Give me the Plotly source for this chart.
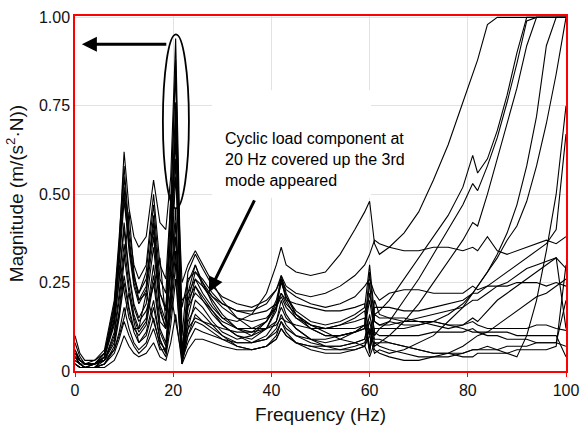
import plotly.graph_objects as go

# frequency grid (Hz) shared by every measured FRF curve
freq = [0, 1, 2, 4, 6, 8, 9, 10, 11, 12,
        13, 14.5, 16, 17.3, 18.5, 19.5, 20.5, 21.8, 23, 24.5,
        26, 28, 30, 33, 36, 39, 41, 42, 43, 45,
        48, 51, 54, 57, 59, 60, 61, 62, 64, 67,
        70, 73, 76, 79, 81, 82, 84, 86, 88, 90,
        92, 94, 96, 98, 100]

# magnitudes, m/(s^2 N)
c01 = [0.04, 0.03, 0.02, 0.02, 0.05, 0.16, 0.30, 0.48, 0.36, 0.26,
       0.22, 0.26, 0.40, 0.18, 0.12, 0.30, 0.72, 0.04, 0.18, 0.26,
       0.22, 0.18, 0.15, 0.14, 0.16, 0.22, 0.30, 0.35, 0.30, 0.28,
       0.27, 0.28, 0.33, 0.40, 0.45, 0.48, 0.36, 0.33, 0.35, 0.39,
       0.45, 0.54, 0.64, 0.76, 0.84, 0.88, 0.98, 1.0, 1.0, 1.0,
       1.0, 1.0, 1.0, 1.0, 1.0]
c02 = [0.08, 0.04, 0.02, 0.02, 0.04, 0.18, 0.36, 0.62, 0.46, 0.38,
       0.35, 0.38, 0.54, 0.42, 0.40, 0.55, 0.94, 0.10, 0.28, 0.33,
       0.29, 0.24, 0.21, 0.19, 0.18, 0.20, 0.23, 0.26, 0.23, 0.21,
       0.19, 0.18, 0.19, 0.21, 0.24, 0.26, 0.22, 0.20, 0.22, 0.23,
       0.23, 0.22, 0.22, 0.22, 0.24, 0.23, 0.24, 0.24, 0.24, 0.25,
       0.25, 0.25, 0.24, 0.25, 0.24]
c03 = [0.05, 0.03, 0.02, 0.03, 0.06, 0.20, 0.38, 0.58, 0.40, 0.30,
       0.26, 0.30, 0.50, 0.30, 0.26, 0.48, 0.88, 0.04, 0.22, 0.30,
       0.25, 0.19, 0.15, 0.12, 0.11, 0.14, 0.19, 0.25, 0.21, 0.17,
       0.14, 0.13, 0.14, 0.16, 0.18, 0.30, 0.16, 0.17, 0.20, 0.26,
       0.32, 0.38, 0.44, 0.52, 0.61, 0.56, 0.60, 0.68, 0.78, 0.90,
       1.0, 1.0, 1.0, 1.0, 1.0]
c04 = [0.04, 0.02, 0.01, 0.02, 0.05, 0.19, 0.35, 0.55, 0.38, 0.27,
       0.22, 0.28, 0.47, 0.26, 0.22, 0.45, 0.85, 0.03, 0.20, 0.28,
       0.26, 0.22, 0.19, 0.17, 0.17, 0.19, 0.23, 0.27, 0.24, 0.22,
       0.21, 0.22, 0.24, 0.27, 0.30, 0.33, 0.37, 0.36, 0.35, 0.34,
       0.34, 0.35, 0.35, 0.34, 0.35, 0.34, 0.38, 0.34, 0.33, 0.34,
       0.35, 0.36, 0.37, 0.36, 0.38]
c05 = [0.06, 0.03, 0.02, 0.02, 0.04, 0.15, 0.32, 0.52, 0.36, 0.25,
       0.20, 0.24, 0.44, 0.22, 0.18, 0.40, 0.76, 0.05, 0.25, 0.30,
       0.24, 0.20, 0.16, 0.12, 0.10, 0.12, 0.17, 0.26, 0.20, 0.15,
       0.12, 0.10, 0.10, 0.11, 0.12, 0.25, 0.10, 0.12, 0.14, 0.20,
       0.26, 0.33, 0.40, 0.47, 0.53, 0.51, 0.58, 0.66, 0.76, 0.87,
       0.99, 1.0, 1.0, 1.0, 1.0]
c06 = [0.03, 0.02, 0.01, 0.02, 0.05, 0.17, 0.33, 0.50, 0.34, 0.24,
       0.19, 0.23, 0.42, 0.22, 0.17, 0.38, 0.70, 0.02, 0.15, 0.24,
       0.20, 0.16, 0.13, 0.10, 0.09, 0.12, 0.18, 0.27, 0.22, 0.16,
       0.13, 0.12, 0.13, 0.15, 0.17, 0.06, 0.20, 0.16, 0.15, 0.14,
       0.14, 0.13, 0.12, 0.13, 0.15, 0.14, 0.17, 0.20, 0.22, 0.24,
       0.26, 0.28, 0.30, 0.32, 0.29]
c07 = [0.05, 0.03, 0.02, 0.02, 0.03, 0.09, 0.17, 0.30, 0.45, 0.28,
       0.20, 0.22, 0.38, 0.19, 0.14, 0.34, 0.65, 0.25, 0.30, 0.34,
       0.30, 0.25, 0.20, 0.15, 0.12, 0.12, 0.14, 0.18, 0.15, 0.12,
       0.09, 0.07, 0.06, 0.06, 0.07, 0.12, 0.07, 0.08, 0.10, 0.14,
       0.19, 0.25, 0.31, 0.37, 0.42, 0.41, 0.50, 0.60, 0.70, 0.80,
       0.92, 1.0, 1.0, 1.0, 1.0]
c08 = [0.02, 0.01, 0.01, 0.02, 0.04, 0.13, 0.26, 0.42, 0.28, 0.19,
       0.15, 0.19, 0.35, 0.17, 0.12, 0.30, 0.60, 0.03, 0.12, 0.20,
       0.18, 0.14, 0.11, 0.09, 0.10, 0.14, 0.20, 0.26, 0.21, 0.16,
       0.12, 0.10, 0.10, 0.11, 0.12, 0.20, 0.11, 0.10, 0.10, 0.10,
       0.10, 0.11, 0.11, 0.11, 0.12, 0.11, 0.11, 0.11, 0.11, 0.10,
       0.10, 0.10, 0.10, 0.10, 0.04]
c09 = [0.10, 0.05, 0.03, 0.03, 0.05, 0.14, 0.26, 0.40, 0.27, 0.18,
       0.14, 0.17, 0.24, 0.32, 0.14, 0.28, 0.55, 0.18, 0.26, 0.28,
       0.25, 0.21, 0.18, 0.15, 0.14, 0.15, 0.18, 0.22, 0.19, 0.16,
       0.13, 0.11, 0.09, 0.08, 0.07, 0.10, 0.05, 0.06, 0.05, 0.06,
       0.08, 0.10, 0.14, 0.18, 0.22, 0.24, 0.28, 0.33, 0.39, 0.47,
       0.58, 0.72, 0.92, 1.0, 1.0]
c10 = [0.03, 0.02, 0.01, 0.01, 0.03, 0.11, 0.22, 0.36, 0.24, 0.16,
       0.12, 0.15, 0.30, 0.14, 0.12, 0.50, 0.30, 0.02, 0.10, 0.16,
       0.14, 0.12, 0.10, 0.08, 0.08, 0.10, 0.14, 0.20, 0.16, 0.12,
       0.09, 0.08, 0.09, 0.11, 0.13, 0.28, 0.14, 0.13, 0.14, 0.13,
       0.13, 0.14, 0.13, 0.13, 0.14, 0.13, 0.12, 0.12, 0.12, 0.12,
       0.12, 0.13, 0.13, 0.12, 0.115]
c11 = [0.04, 0.02, 0.02, 0.02, 0.03, 0.10, 0.20, 0.33, 0.22, 0.15,
       0.11, 0.14, 0.27, 0.12, 0.08, 0.24, 0.46, 0.03, 0.18, 0.22,
       0.20, 0.17, 0.14, 0.12, 0.12, 0.14, 0.18, 0.21, 0.18, 0.15,
       0.13, 0.12, 0.12, 0.12, 0.13, 0.06, 0.12, 0.12, 0.12, 0.12,
       0.13, 0.14, 0.16, 0.19, 0.22, 0.24, 0.28, 0.32, 0.37, 0.41,
       0.48, 0.58, 0.70, 0.84, 1.0]
c12 = [0.02, 0.01, 0.01, 0.01, 0.04, 0.14, 0.30, 0.22, 0.15, 0.12,
       0.10, 0.13, 0.25, 0.11, 0.07, 0.22, 0.42, 0.04, 0.14, 0.18,
       0.16, 0.13, 0.10, 0.07, 0.06, 0.07, 0.10, 0.14, 0.11, 0.08,
       0.06, 0.05, 0.05, 0.06, 0.07, 0.04, 0.08, 0.07, 0.06, 0.05,
       0.04, 0.04, 0.04, 0.05, 0.06, 0.06, 0.06, 0.06, 0.07, 0.07,
       0.07, 0.08, 0.08, 0.08, 0.07]
c13 = [0.05, 0.03, 0.02, 0.02, 0.03, 0.08, 0.16, 0.27, 0.18, 0.12,
       0.12, 0.22, 0.14, 0.08, 0.06, 0.20, 0.38, 0.05, 0.20, 0.24,
       0.21, 0.17, 0.13, 0.10, 0.08, 0.09, 0.12, 0.16, 0.13, 0.10,
       0.08, 0.07, 0.07, 0.08, 0.09, 0.16, 0.09, 0.09, 0.08, 0.07,
       0.06, 0.05, 0.05, 0.05, 0.06, 0.06, 0.07, 0.06, 0.05, 0.04,
       0.10, 0.20, 0.34, 0.50, 0.75]
c14 = [0.03, 0.02, 0.01, 0.01, 0.02, 0.07, 0.15, 0.25, 0.17, 0.11,
       0.08, 0.11, 0.20, 0.09, 0.05, 0.18, 0.34, 0.03, 0.10, 0.14,
       0.13, 0.11, 0.09, 0.07, 0.06, 0.07, 0.09, 0.12, 0.10, 0.08,
       0.07, 0.06, 0.06, 0.07, 0.08, 0.12, 0.06, 0.05, 0.04, 0.03,
       0.03, 0.04, 0.05, 0.07, 0.09, 0.10, 0.11, 0.13, 0.15, 0.17,
       0.19, 0.21, 0.22, 0.24, 0.26]
c15 = [0.06, 0.03, 0.02, 0.02, 0.03, 0.06, 0.10, 0.15, 0.22, 0.14,
       0.08, 0.10, 0.18, 0.09, 0.05, 0.16, 0.30, 0.20, 0.22, 0.26,
       0.24, 0.21, 0.19, 0.17, 0.16, 0.17, 0.19, 0.22, 0.20, 0.19,
       0.18, 0.17, 0.17, 0.18, 0.19, 0.10, 0.18, 0.18, 0.18, 0.17,
       0.17, 0.18, 0.19, 0.20, 0.22, 0.22, 0.24, 0.26, 0.28, 0.30,
       0.32, 0.34, 0.36, 0.40, 0.67]
c16 = [0.02, 0.01, 0.01, 0.01, 0.02, 0.06, 0.11, 0.18, 0.12, 0.08,
       0.06, 0.08, 0.15, 0.07, 0.04, 0.13, 0.26, 0.03, 0.08, 0.12,
       0.11, 0.10, 0.09, 0.08, 0.08, 0.09, 0.11, 0.14, 0.12, 0.10,
       0.09, 0.09, 0.10, 0.11, 0.13, 0.22, 0.14, 0.13, 0.13, 0.14,
       0.15, 0.16, 0.17, 0.18, 0.20, 0.20, 0.22, 0.24, 0.25, 0.27,
       0.29, 0.30, 0.31, 0.32, 0.12]
c17 = [0.04, 0.02, 0.01, 0.01, 0.02, 0.05, 0.09, 0.14, 0.10, 0.07,
       0.05, 0.07, 0.12, 0.06, 0.06, 0.22, 0.14, 0.04, 0.12, 0.15,
       0.14, 0.13, 0.12, 0.11, 0.11, 0.12, 0.13, 0.15, 0.14, 0.13,
       0.12, 0.12, 0.13, 0.14, 0.15, 0.05, 0.16, 0.15, 0.15, 0.15,
       0.14, 0.14, 0.13, 0.12, 0.11, 0.11, 0.10, 0.10, 0.09, 0.09,
       0.09, 0.08, 0.08, 0.08, 0.20]
c18 = [0.02, 0.01, 0.01, 0.01, 0.01, 0.03, 0.06, 0.10, 0.07, 0.05,
       0.04, 0.05, 0.08, 0.04, 0.03, 0.08, 0.16, 0.02, 0.06, 0.09,
       0.09, 0.08, 0.07, 0.06, 0.06, 0.07, 0.09, 0.12, 0.10, 0.08,
       0.07, 0.07, 0.07, 0.08, 0.09, 0.14, 0.08, 0.08, 0.08, 0.07,
       0.06, 0.05, 0.05, 0.04, 0.04, 0.05, 0.05, 0.05, 0.05, 0.06,
       0.06, 0.06, 0.06, 0.07, 0.30]

curves = [c01, c02, c03, c04, c05, c06, c07, c08, c09,
          c10, c11, c12, c13, c14, c15, c16, c17, c18]

y_ticks = [0, 0.25, 0.5, 0.75, 1.0]
y_ticktext = ["0", "0.25", "0.50", "0.75", "1.00"]
x_ticks = [0, 20, 40, 60, 80, 100]

fig = go.Figure()
for c in curves:
    fig.add_trace(go.Scatter(x=freq, y=c, mode="lines",
                             line=dict(color="black", width=1.1),
                             hoverinfo="skip", showlegend=False))

# white box behind the note (hides the grid there)
fig.add_shape(type="rect", xref="x", yref="y", x0=27.9, x1=60.3, y0=0.49, y1=0.794,
              fillcolor="white", line_width=0, layer="between")
# ellipse around the 20 Hz peak
fig.add_shape(type="circle", xref="x", yref="y", x0=17.9, x1=23.2, y0=0.46, y1=0.952,
              line=dict(color="black", width=1.8))

fig.add_annotation(x=30.1, y=0.597, xref="x", yref="y", xanchor="left", yanchor="middle",
                   align="left", showarrow=False,
                   text="Cyclic load component at<br>20 Hz covered up the 3rd<br>mode appeared",
                   font=dict(size=16, color="black"))
# arrow to the axis
fig.add_annotation(x=1.4, y=0.924, ax=18.9, ay=0.924, xref="x", yref="y", axref="x", ayref="y",
                   text="", showarrow=True, arrowhead=2, arrowsize=1, arrowwidth=3,
                   arrowcolor="black")
# arrow to the 3rd mode
fig.add_annotation(x=27.3, y=0.223, ax=36.7, ay=0.487, xref="x", yref="y", axref="x", ayref="y",
                   text="", showarrow=True, arrowhead=2, arrowsize=1, arrowwidth=3,
                   arrowcolor="black")

fig.update_layout(
    width=580,
    height=425,
    margin=dict(l=75, r=14, t=16, b=54),
    paper_bgcolor="white",
    plot_bgcolor="white",
    font=dict(family="Liberation Sans, Arial", size=16, color="#111111"),
    showlegend=False,
)
fig.update_xaxes(range=[0, 100], tickvals=x_ticks, showgrid=True, gridcolor="#e2e2e2",
                 gridwidth=1, showline=True, linecolor="red", linewidth=1.5, mirror=True,
                 ticks="outside", ticklen=4, tickcolor="red", zeroline=False,
                 automargin=False, title=dict(text="Frequency (Hz)", standoff=12))
fig.update_yaxes(range=[0, 1.004], tickvals=y_ticks, ticktext=y_ticktext, showgrid=True,
                 gridcolor="#e2e2e2", gridwidth=1, showline=True, linecolor="red",
                 linewidth=1.5, mirror=True, ticks="", zeroline=False,
                 automargin=False, title=dict(text="Magnitude (m/(s<sup>2</sup>·N))", standoff=10))

# drop the page's default body margin so the figure sits at the window corner
fig.write_html("out.html", config={"displayModeBar": False},
               post_script="document.body.style.margin='0';")
